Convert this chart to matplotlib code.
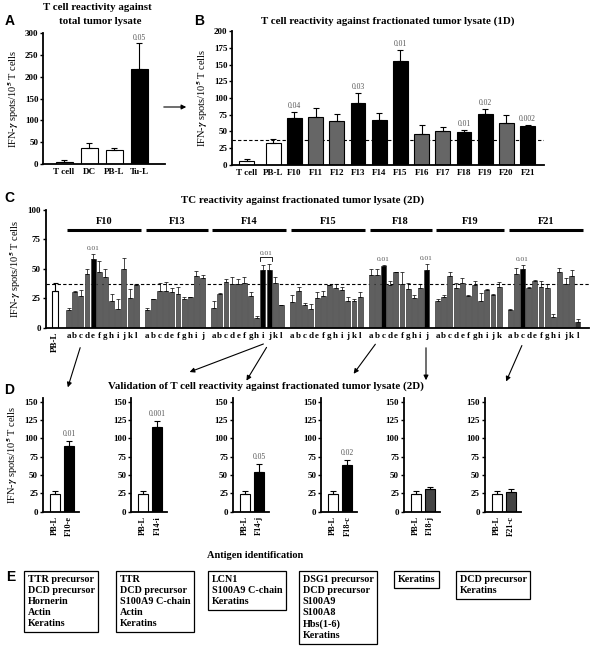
import numpy as np
import matplotlib.pyplot as plt
from matplotlib.patches import FancyArrowPatch

plt.rcParams['font.family'] = ['Liberation Serif', 'DejaVu Serif']
plt.rcParams['font.weight'] = 'bold'
plt.rcParams['mathtext.fontset'] = 'stix'

# ---- panel A: total tumor lysate
a_cats = ['T cell', 'DC', 'PB-L', 'Tu-L']
a_vals = [5, 35, 32, 218]
a_err = [4, 13, 5, 60]
a_kind = ['w', 'w', 'w', 'k']
a_p = {3: '0.05'}

# ---- panel B: 1D fractions
b_cats = ['T cell', 'PB-L', 'F10', 'F11', 'F12', 'F13', 'F14', 'F15',
          'F16', 'F17', 'F18', 'F19', 'F20', 'F21']
b_vals = [6, 33, 70, 71, 65, 93, 67, 155, 46, 50, 49, 76, 62, 58]
b_err = [3, 5, 9, 14, 11, 15, 10, 17, 14, 7, 2.5, 8, 13, 1]
b_kind = ['w', 'w', 'k', 'g', 'g', 'k', 'k', 'k', 'g', 'g', 'k', 'k', 'g', 'k']
b_p = {'F10': '0.04', 'F13': '0.03', 'F15': '0.01', 'F18': '0.01',
       'F19': '0.02', 'F21': '0.002'}

# ---- panel C: 2D fractions
c_pbl_val, c_pbl_err = 31, 7
c_groups = ['F10', 'F13', 'F14', 'F15', 'F18', 'F19', 'F21']
c_f10_vals = [15, 30, 27, 46, 58, 47, 43, 23, 16, 50, 25, 36]
c_f10_err = [2, 1, 5, 4, 5, 10, 7, 6, 8, 9, 8, 1]
c_f13_vals = [15, 24, 31, 31, 30, 29, 24, 26, 44, 42]
c_f13_err = [2, 0.5, 7, 8, 4, 6, 2, 0.5, 4, 3]
c_f14_vals = [17, 29, 39, 37, 37, 38, 27, 8, 49, 49, 38, 19]
c_f14_err = [6, 0.5, 2, 6, 4, 5, 3, 2, 4, 5, 5, 0.5]
c_f15_vals = [22, 31, 19, 16, 25, 27, 36, 34, 32, 23, 23, 26]
c_f15_err = [6, 4, 2, 4, 5, 4, 0.5, 3, 3, 3, 1.5, 4]
c_f18_vals = [45, 45, 52, 36, 47, 37, 33, 25, 34, 49]
c_f18_err = [5, 5, 1, 4, 0.5, 10, 5, 3, 3, 5]
c_f19_vals = [23, 26, 44, 34, 38, 27, 36, 23, 32, 28, 35]
c_f19_err = [1, 2, 3, 4, 4, 0.5, 4, 6.5, 1, 1, 4]
c_f21_vals = [15, 46, 50, 34, 40, 35, 34, 9, 47, 37, 44, 5]
c_f21_err = [0.5, 5, 3, 1, 0.5, 5, 3, 3, 4, 5, 5, 2]
c_black = {('F10', 'e'), ('F14', 'i'), ('F14', 'j'), ('F18', 'c'), ('F18', 'j'), ('F21', 'c')}
c_single_p = [('F10', 'e'), ('F18', 'c'), ('F18', 'j'), ('F21', 'c')]
baseline = 37.5

# ---- panel D: validation
d_fracs = ['F10-e', 'F14-i', 'F14-j', 'F18-c', 'F18-j', 'F21-c']
d_pbl_vals = [24.5, 24.5, 24.5, 24.5, 24.5, 24.5]
d_pbl_err = [4, 3.5, 4, 4, 4, 4]
d_vals = [89, 115, 53.5, 63, 31, 27]
d_err = [7, 8.5, 11, 7, 3, 4]
d_p = ['0.01', '0.001', '0.05', '0.02', None, None]

# ---- panel E: antigens
e_boxes = [
    ['TTR precursor', 'DCD precursor', 'Hornerin', 'Actin', 'Keratins'],
    ['TTR', 'DCD precursor', 'S100A9 C-chain', 'Actin', 'Keratins'],
    ['LCN1', 'S100A9 C-chain', 'Keratins'],
    ['DSG1 precursor', 'DCD precursor', 'S100A9', 'S100A8', 'Hbs(1-6)', 'Keratins'],
    ['Keratins'],
    ['DCD precursor', 'Keratins'],
]

W, H = 593, 670
fig = plt.figure(figsize=(W / 100, H / 100), dpi=100)
col = {'w': 'white', 'k': 'black', 'g': '#666666', 'd': '#444444'}
ylab = r'IFN-$\gamma$ spots/10$^5$ T cells'


def px_axes(l, t, r, b):
    return fig.add_axes([l / W, 1 - b / H, (r - l) / W, (b - t) / H])


def fx(x, y):
    return (x / W, 1 - y / H)


def style(ax, ymax, step, top=None):
    for s in ['top', 'right']:
        ax.spines[s].set_visible(False)
    ax.spines['left'].set_linewidth(1.3)
    ax.spines['bottom'].set_linewidth(1.3)
    ax.set_ylim(0, ymax if top is None else top)
    ax.set_yticks(np.arange(0, ymax + 1, step))
    ax.tick_params(axis='y', direction='out', length=2.5, width=1, labelsize=6.5, pad=1)
    ax.tick_params(axis='x', length=0, labelsize=6.5, pad=3)


def bars_up(ax, x, vals, errs, colors, width, edge='black', lw=0.8, cap=2.0):
    ax.bar(x, vals, width=width, color=colors, edgecolor=edge, linewidth=lw, zorder=2)
    ax.errorbar(x, vals, yerr=[np.zeros(len(vals)), errs], fmt='none', ecolor='black',
                elinewidth=lw, capsize=cap, capthick=lw, zorder=3)


def ptext(ax, x, y, s, size=5.5):
    ax.text(x, y, s, ha='center', va='bottom', fontsize=size, fontweight='normal',
            color='#555555')


# panel A
axA = px_axes(43.3, 33.3, 165, 163.7)
xa = np.arange(len(a_cats))
bars_up(axA, xa, a_vals, a_err, [col[k] for k in a_kind], 0.68)
style(axA, 300, 50)
axA.set_xlim(-0.83, 4.04)
axA.set_xticks(xa)
axA.set_xticklabels(a_cats)
for i, s in a_p.items():
    ptext(axA, xa[i], a_vals[i] + a_err[i] + 3, s)
axA.set_ylabel(ylab, fontsize=7.5, labelpad=3)

# panel B
axB = px_axes(232.3, 31.3, 544, 164.7)
xb = np.array([0] + [1.25 + i for i in range(len(b_cats) - 1)])
bars_up(axB, xb, b_vals, b_err, [col[k] for k in b_kind], 0.7)
style(axB, 200, 25)
axB.set_xlim(-0.68, 14.02)
axB.set_xticks(xb)
axB.set_xticklabels(b_cats)
axB.axhline(baseline, ls=(0, (3, 2)), color='black', lw=0.8, zorder=1)
for i, c in enumerate(b_cats):
    if c in b_p:
        ptext(axB, xb[i], b_vals[i] + b_err[i] + 3, b_p[c])
axB.set_ylabel(ylab, fontsize=7.5, labelpad=3)

# panel C
axC = px_axes(45.7, 210, 589, 327.7)
c_vals = [c_f10_vals, c_f13_vals, c_f14_vals, c_f15_vals, c_f18_vals, c_f19_vals, c_f21_vals]
c_errs = [c_f10_err, c_f13_err, c_f14_err, c_f15_err, c_f18_err, c_f19_err, c_f21_err]
axC.bar([0], [c_pbl_val], width=0.9, color='white', edgecolor='black', linewidth=0.8, zorder=2)
axC.errorbar([0], [c_pbl_val], yerr=[[0], [c_pbl_err]], fmt='none', ecolor='black',
             elinewidth=0.8, capsize=1.8, capthick=0.8, zorder=3)
ticks, labels = [0], ['PB-L']
pos = {}
start = 2.2
for g, vals, errs in zip(c_groups, c_vals, c_errs):
    letters = 'abcdefghijkl'[:len(vals)]
    xs = start + np.arange(len(vals))
    cols = ['black' if (g, l) in c_black else ('#333333' if (g, l) == ('F21', 'l') else '#5f5f5f')
            for l in letters]
    bars_up(axC, xs, vals, errs, cols, 0.8, edge='#3a3a3a', lw=0.5, cap=1.5)
    for x, l, v, e in zip(xs, letters, vals, errs):
        pos[(g, l)] = (x, v + e)
    ticks += list(xs)
    labels += list(letters)
    axC.plot([xs[0] - 0.2, xs[-1] + 0.8], [83, 83], color='black', lw=2.2, clip_on=False,
             solid_capstyle='butt')
    axC.text((xs[0] + xs[-1] + 0.6) / 2, 86, g, ha='center', va='bottom', fontsize=7.5)
    start = xs[-1] + 1.8
style(axC, 100, 25)
axC.set_xlim(-1.51, 86.8)
axC.axhline(baseline, ls=(0, (3, 2)), color='black', lw=0.8, zorder=1)
axC.set_xticks(ticks)
axC.set_xticklabels(labels)
tl = axC.get_xticklabels()
tl[0].set_rotation(90)
for key in c_single_p:
    x, top = pos[key]
    ptext(axC, x, top + 2.5, '0.01', size=5.3)
xi, ti = pos[('F14', 'i')]
xj, tj = pos[('F14', 'j')]
yb = max(ti, tj) + 3
axC.plot([xi - 0.4, xi - 0.4, xj + 0.4, xj + 0.4], [yb, yb + 3, yb + 3, yb], color='black', lw=0.6)
ptext(axC, (xi + xj) / 2, yb + 4, '0.01', size=5.3)
axC.set_ylabel(ylab, fontsize=7.5, labelpad=3)

# panel D
d_centers = [55, 143.3, 245, 333.3, 416, 496.7]
for k, frac in enumerate(d_fracs):
    c0 = d_centers[k]
    ax = px_axes(c0 - 12, 398, c0 + 24, 511.7)
    second = 'k' if d_p[k] else 'd'
    bars_up(ax, [0, 1], [d_pbl_vals[k], d_vals[k]], [d_pbl_err[k], d_err[k]],
            ['white', col[second]], 0.7)
    style(ax, 150, 25, top=155)
    ax.set_xlim(-0.85, 1.7)
    ax.set_xticks([0, 1])
    ax.set_xticklabels(['PB-L', frac], rotation=90, fontsize=6)
    if d_p[k]:
        ptext(ax, 1, d_vals[k] + d_err[k] + 4, d_p[k])
    if k == 0:
        ax.set_ylabel(ylab, fontsize=7.5, labelpad=3)

# panel E
e_left = [24, 116, 208, 299, 394, 456]
for x0, lines in zip(e_left, e_boxes):
    fig.text(x0 / W + 0.006, 1 - 575 / H, '\n'.join(lines), ha='left', va='top', fontsize=7.3,
             linespacing=1.3,
             bbox=dict(boxstyle='square,pad=0.35', fc='white', ec='black', lw=0.9))
fig.text(*fx(255, 555), 'Antigen identification', ha='center', va='center', fontsize=7.5)

# titles and panel letters
fig.text(*fx(97, 7), 'T cell reactivity against', ha='center', va='center', fontsize=7.8)
fig.text(*fx(100, 21), 'total tumor lysate', ha='center', va='center', fontsize=7.8)
fig.text(*fx(388, 21), 'T cell reactivity against fractionated tumor lysate (1D)',
         ha='center', va='center', fontsize=7.8)
fig.text(*fx(303, 200), 'TC reactivity against fractionated tumor lysate (2D)',
         ha='center', va='center', fontsize=7.8)
fig.text(*fx(266, 386), 'Validation of T cell reactivity against fractionated tumor lysate (2D)',
         ha='center', va='center', fontsize=7.8)
for s, x, y in [('A', 10, 21), ('B', 199, 21), ('C', 9, 198), ('D', 9, 390), ('E', 11, 577)]:
    fig.text(*fx(x, y), s, ha='center', va='center', fontsize=10, fontweight='bold',
             family='Liberation Sans')

# arrows
arrows = [((161, 107), (189, 107)), ((81, 345), (67, 390)), ((266, 343), (187, 373)),
          ((268, 345), (245, 383)), ((377, 342), (352, 376)), ((426, 345), (426, 383)),
          ((523, 343), (505, 384))]
for a, b in arrows:
    fig.add_artist(FancyArrowPatch(fx(*a), fx(*b), transform=fig.transFigure,
                                   arrowstyle='-|>', mutation_scale=7, lw=0.8, color='black'))

fig.savefig('out.png', dpi=100)
